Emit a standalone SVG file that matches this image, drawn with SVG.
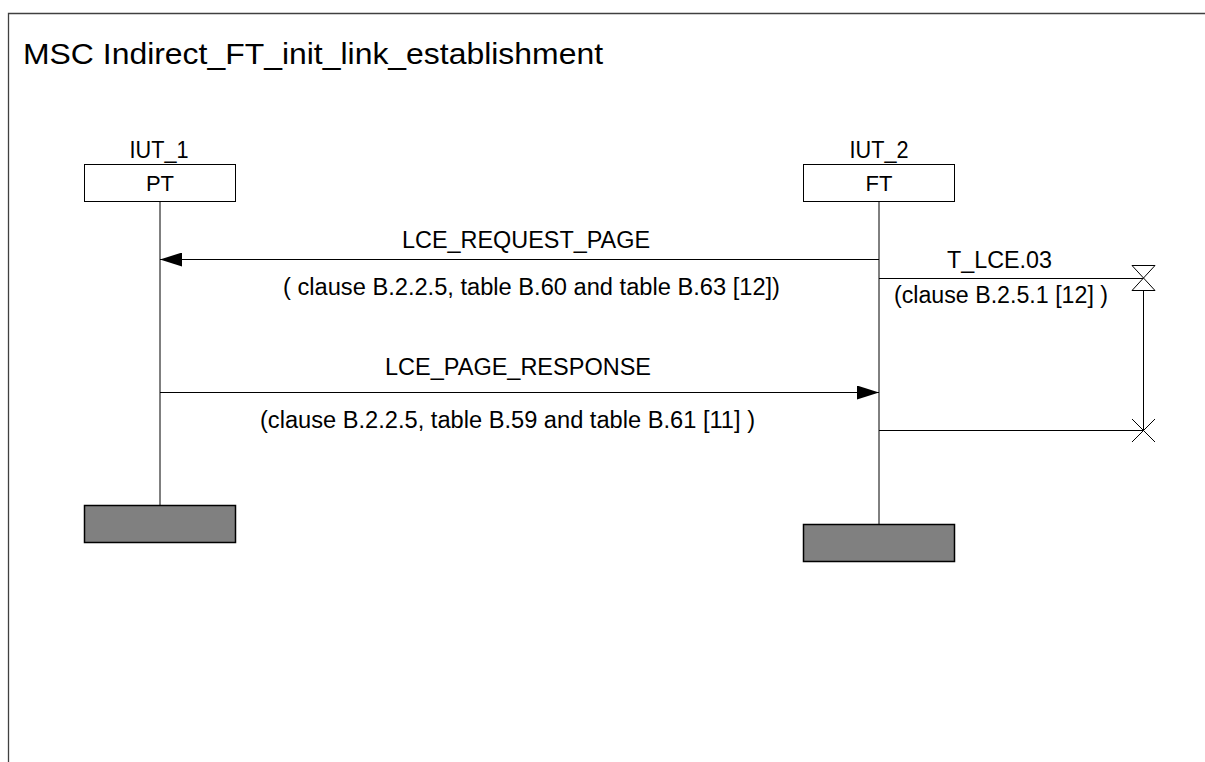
<svg xmlns="http://www.w3.org/2000/svg" width="1205" height="762" viewBox="0 0 1205 762">
<defs>
<style>
text{font-family:"Liberation Sans",Arial,sans-serif;font-size:23px;fill:#000}
.ln{stroke:#000;stroke-width:1;fill:none}
.box{fill:#fff;stroke:#000;stroke-width:1}
.end{fill:#808080;stroke:#000;stroke-width:1.5}
.frame{stroke:#404040;stroke-width:1.3;fill:none}
</style>
<marker id="ah" markerWidth="22" markerHeight="14" refX="22" refY="7" orient="auto" markerUnits="userSpaceOnUse">
<path d="M0,0 L22,7 L0,14 Z" fill="#000"/>
</marker>
</defs>
<rect width="1205" height="762" fill="#fff"/>
<path class="frame" d="M8.5,762 L8.5,13.5 L1205,13.5"/>
<text x="23" y="64" style="font-size:30px" textLength="580" lengthAdjust="spacingAndGlyphs">MSC Indirect_FT_init_link_establishment</text>

<g id="iut1">
<text x="159" y="158" text-anchor="middle" textLength="59" lengthAdjust="spacingAndGlyphs">IUT_1</text>
<rect class="box" x="84.5" y="164.5" width="151" height="37"/>
<text x="160" y="191" text-anchor="middle" style="font-size:22px">PT</text>
<line class="ln" x1="160" y1="202" x2="160" y2="505"/>
<rect class="end" x="84.5" y="505.5" width="151" height="37"/>
</g>

<g id="iut2">
<text x="879" y="158" text-anchor="middle" textLength="59" lengthAdjust="spacingAndGlyphs">IUT_2</text>
<rect class="box" x="803.5" y="164.5" width="151" height="37"/>
<text x="879" y="191" text-anchor="middle" style="font-size:22px">FT</text>
<line class="ln" x1="879" y1="202" x2="879" y2="524"/>
<rect class="end" x="803.5" y="524.5" width="151" height="37"/>
</g>

<g id="connectors">
<line class="ln" x1="879" y1="259.5" x2="160" y2="259.5" marker-end="url(#ah)"/>
<text x="402" y="248" textLength="248" lengthAdjust="spacingAndGlyphs">LCE_REQUEST_PAGE</text>
<text x="283" y="295" textLength="497" lengthAdjust="spacingAndGlyphs">(  clause B.2.2.5, table B.60 and table B.63 [12])</text>

<line class="ln" x1="160" y1="392.5" x2="879" y2="392.5" marker-end="url(#ah)"/>
<text x="385" y="375" textLength="266" lengthAdjust="spacingAndGlyphs">LCE_PAGE_RESPONSE</text>
<text x="260" y="428" textLength="495" lengthAdjust="spacingAndGlyphs">(clause B.2.2.5, table B.59 and table B.61 [11]  )</text>
</g>

<g id="timer">
<line class="ln" x1="879" y1="278.5" x2="1143" y2="278.5"/>
<path class="ln" d="M1132,265.5 L1155,265.5 L1132,290.5 L1155,290.5 Z"/>
<line class="ln" x1="1143.5" y1="290" x2="1143.5" y2="430"/>
<line class="ln" x1="879" y1="430.5" x2="1143" y2="430.5"/>
<line class="ln" x1="1132" y1="419" x2="1155" y2="442"/>
<line class="ln" x1="1155" y1="419" x2="1132" y2="442"/>
<text x="947" y="268" textLength="105" lengthAdjust="spacingAndGlyphs">T_LCE.03</text>
<text x="894" y="303" textLength="214" lengthAdjust="spacingAndGlyphs">(clause B.2.5.1 [12] )</text>
</g>
</svg>
